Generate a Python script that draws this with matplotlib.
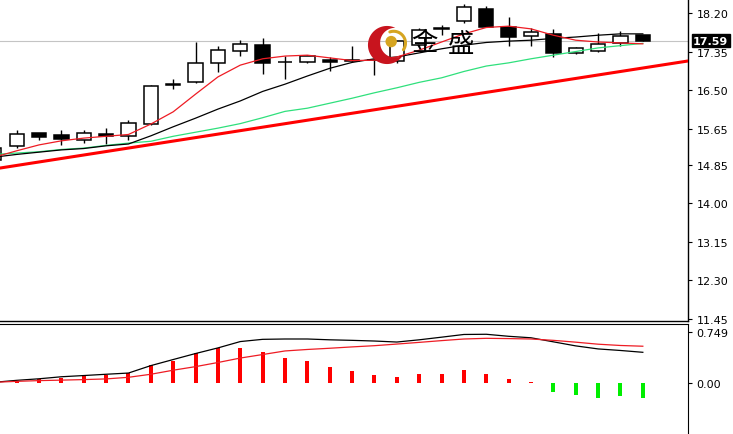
import numpy as np
import matplotlib
matplotlib.use("Agg")
import matplotlib.pyplot as plt
from matplotlib.patches import Polygon, Circle
from matplotlib.transforms import blended_transform_factory

# --- price data ---
opens = [14.95, 15.27, 15.55, 15.51, 15.40, 15.54, 15.49, 15.75, 16.62, 16.68,
         17.10, 17.36, 17.49, 17.12, 17.12, 17.17, 17.15, 17.16, 17.14, 17.50,
         17.84, 18.02, 18.29, 17.89, 17.69, 17.74, 17.32, 17.36, 17.54, 17.71]
highs = [15.25, 15.62, 15.56, 15.62, 15.62, 15.66, 15.84, 16.61, 16.74, 17.56,
         17.47, 17.61, 17.64, 17.25, 17.28, 17.23, 17.47, 17.20, 17.58, 17.88,
         17.94, 18.40, 18.35, 18.11, 17.87, 17.85, 17.45, 17.76, 17.80, 17.72]
lows = [14.90, 15.22, 15.40, 15.29, 15.33, 15.31, 15.40, 15.73, 16.52, 16.66,
        16.90, 17.25, 16.85, 16.74, 17.10, 16.92, 17.12, 16.83, 17.10, 17.45,
        17.72, 17.98, 17.89, 17.47, 17.47, 17.23, 17.30, 17.35, 17.47, 17.58]
closes = [15.22, 15.53, 15.47, 15.42, 15.55, 15.49, 15.77, 16.59, 16.63, 17.10,
          17.38, 17.52, 17.10, 17.13, 17.25, 17.12, 17.16, 17.17, 17.58, 17.82,
          17.86, 18.33, 17.89, 17.67, 17.78, 17.32, 17.43, 17.52, 17.69, 17.59]

ma_red = [15.02, 15.16, 15.29, 15.38, 15.44, 15.48, 15.52, 15.75, 16.02, 16.41,
          16.79, 17.05, 17.19, 17.25, 17.27, 17.21, 17.15, 17.16, 17.23, 17.38,
          17.56, 17.74, 17.88, 17.91, 17.85, 17.71, 17.60, 17.56, 17.54, 17.52]
ma_black = [15.02, 15.08, 15.13, 15.18, 15.21, 15.27, 15.31, 15.49, 15.69, 15.88,
            16.08, 16.26, 16.47, 16.63, 16.81, 16.98, 17.11, 17.19, 17.23, 17.32,
            17.41, 17.49, 17.55, 17.58, 17.60, 17.64, 17.67, 17.71, 17.74, 17.74]
ma_green = [15.08, 15.11, 15.14, 15.19, 15.22, 15.28, 15.33, 15.37, 15.48, 15.57,
            15.66, 15.76, 15.89, 16.03, 16.10, 16.21, 16.32, 16.44, 16.55, 16.67,
            16.77, 16.91, 17.03, 17.10, 17.19, 17.27, 17.35, 17.43, 17.48, 17.53]

trend_x = [0, 31]
trend_y = [14.76, 17.14]

last_price = 17.59
price_ticks = [18.20, 17.35, 16.50, 15.65, 14.85, 14.00, 13.15, 12.30, 11.45]

# --- MACD panel ---
macd_hist = [0.01, 0.03, 0.06, 0.075, 0.11, 0.115, 0.15, 0.26, 0.32, 0.435,
             0.51, 0.52, 0.45, 0.36, 0.315, 0.235, 0.165, 0.115, 0.09, 0.135,
             0.135, 0.185, 0.135, 0.05, 0.01, -0.135, -0.19, -0.225, -0.20, -0.225]
macd_line = [0.005, 0.034, 0.057, 0.087, 0.105, 0.124, 0.142, 0.252, 0.342, 0.431,
             0.514, 0.608, 0.641, 0.646, 0.646, 0.634, 0.626, 0.616, 0.601, 0.634,
             0.673, 0.713, 0.716, 0.686, 0.664, 0.604, 0.544, 0.499, 0.476, 0.449]
signal_line = [0.005, 0.019, 0.030, 0.037, 0.045, 0.055, 0.079, 0.124, 0.184, 0.237,
               0.298, 0.364, 0.416, 0.469, 0.491, 0.509, 0.529, 0.547, 0.571, 0.596,
               0.622, 0.646, 0.656, 0.652, 0.646, 0.626, 0.599, 0.569, 0.550, 0.539]
macd_ticks = [0.749, 0.0]
macd_labels = ["0.749", "0.00"]

W, H = 733, 435


def px_box(x0, y0, x1, y1):
    return [x0 / W, 1 - y1 / H, (x1 - x0) / W, (y1 - y0) / H]


fig = plt.figure(figsize=(W / 100, H / 100), dpi=100)
fig.patch.set_facecolor("white")

ax = fig.add_axes(px_box(0, 0, 688, 322))
axm = fig.add_axes(px_box(0, 325, 688, 437))

idx = np.arange(len(opens))
o = np.array(opens)
c = np.array(closes)

# candles
ax.vlines(idx, lows, highs, color="black", linewidth=1.0, zorder=2)
bottom = np.minimum(o, c)
height = np.maximum(np.abs(c - o), 0.005)
fills = ["white" if cc >= oo else "black" for oo, cc in zip(o, c)]
ax.bar(idx, height, bottom=bottom, width=0.64, color=fills,
       edgecolor="black", linewidth=1.1, zorder=3)

ax.axhline(last_price, color="#c4c4c4", linewidth=0.8, zorder=1)
ax.plot(trend_x, trend_y, color="#ff0000", linewidth=2.2, zorder=4)
ax.plot(idx, ma_green, color="#2fe07c", linewidth=0.9, zorder=4)
ax.plot(idx, ma_black, color="black", linewidth=0.9, zorder=4)
ax.plot(idx, ma_red, color="#ee1c24", linewidth=0.9, zorder=5)

xlim = (0.255, 31.02)
ax.set_xlim(*xlim)
ax.set_ylim(11.405, 18.509)
ax.set_xticks([])
ax.yaxis.tick_right()
ax.set_yticks(price_ticks)
ax.set_yticklabels([f"{t:.2f}" for t in price_ticks])
ax.tick_params(axis="y", direction="out", length=3, width=0.8,
               labelsize=8, pad=3, colors="black")
for s in ["left", "top"]:
    ax.spines[s].set_visible(False)
ax.spines["right"].set_linewidth(1.0)
ax.spines["bottom"].set_linewidth(1.0)

tr = blended_transform_factory(ax.transAxes, ax.transData)
ax.text(1.0 + 5 / 688, last_price, f"{last_price:.2f}", transform=tr,
        ha="left", va="center", color="white", fontsize=8, fontweight="bold",
        bbox=dict(facecolor="black", edgecolor="black", pad=1.0), zorder=10,
        clip_on=False)

# MACD
hist_colors = ["#ff0000" if v >= 0 else "#00ee00" for v in macd_hist]
axm.bar(idx, macd_hist, width=0.18, color=hist_colors, zorder=2)
axm.plot(idx, macd_line, color="black", linewidth=0.9, zorder=3)
axm.plot(idx, signal_line, color="#ee1c24", linewidth=0.9, zorder=3)
axm.set_xlim(*xlim)
axm.set_ylim(-0.79, 0.868)
axm.set_xticks([])
axm.yaxis.tick_right()
axm.set_yticks(macd_ticks)
axm.set_yticklabels(macd_labels)
axm.tick_params(axis="y", direction="out", length=3, width=0.8,
                labelsize=8, pad=3, colors="black")
for s in ["left", "bottom"]:
    axm.spines[s].set_visible(False)

# logo
lax = fig.add_axes(px_box(367, 26, 407, 66))
lax.set_xlim(-1.05, 1.05)
lax.set_ylim(-1.05, 1.05)
lax.set_aspect("equal")
lax.axis("off")
th = np.linspace(0, 2 * np.pi, 400)
bx, by, br = 0.42, 0.12, 0.78
ax_pts = np.c_[np.cos(th), np.sin(th)]
outside = np.hypot(ax_pts[:, 0] - bx, ax_pts[:, 1] - by) > br
b_pts = np.c_[bx + br * np.cos(th), by + br * np.sin(th)]
inside = np.hypot(b_pts[:, 0], b_pts[:, 1]) < 1.0
crescent = np.vstack([ax_pts[outside], b_pts[inside][::-1]])
lax.add_patch(Polygon(crescent, closed=True, facecolor="#c8141e", edgecolor="none"))
lax.add_patch(Circle((0.22, 0.18), 0.3, facecolor="#d6a521", edgecolor="none"))
arc_t = np.linspace(-0.6, 1.9, 60)
lax.plot(0.35 + 0.62 * np.cos(arc_t), 0.1 + 0.62 * np.sin(arc_t),
         color="#d6a521", linewidth=2.2, solid_capstyle="round")

fig.text(424 / W, 1 - 44 / H, "金", ha="center", va="center", fontsize=19,
         family=["Noto Sans CJK SC", "DejaVu Sans"], color="black")
fig.text(461 / W, 1 - 44 / H, "盛", ha="center", va="center", fontsize=19,
         family=["Noto Sans CJK SC", "DejaVu Sans"], color="black")

fig.savefig("out.png", dpi=100, facecolor="white")
